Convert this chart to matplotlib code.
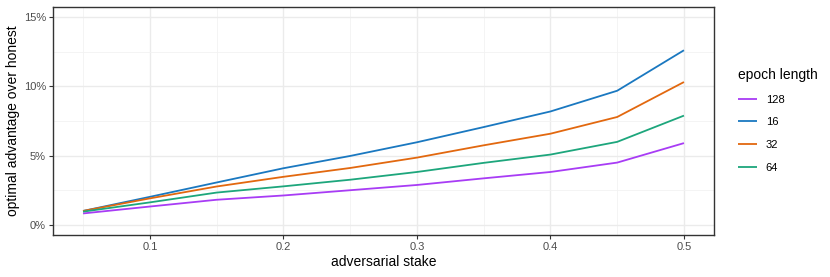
import matplotlib
matplotlib.use("Agg")
import matplotlib.pyplot as plt
from matplotlib.ticker import FuncFormatter, MultipleLocator

plt.rcParams['font.family'] = ['Liberation Sans', 'DejaVu Sans']

# adversarial stake (x) and optimal advantage in percent, per epoch length
stake = [0.05, 0.10, 0.15, 0.20, 0.25, 0.30, 0.35, 0.40, 0.45, 0.50]
adv_128 = [0.81, 1.31, 1.80, 2.11, 2.49, 2.87, 3.35, 3.81, 4.49, 5.90]
adv_16 = [0.99, 2.01, 3.05, 4.08, 4.97, 5.96, 7.06, 8.19, 9.69, 12.62]
adv_32 = [0.99, 1.90, 2.76, 3.46, 4.10, 4.85, 5.74, 6.58, 7.79, 10.32]
adv_64 = [0.94, 1.61, 2.32, 2.77, 3.25, 3.81, 4.47, 5.07, 5.99, 7.89]

labels = ['128', '16', '32', '64']
series = [adv_128, adv_16, adv_32, adv_64]
colors = ['#a83cf5', '#1a78c0', '#e2680f', '#1da67c']

W, H = 830, 277
fig = plt.figure(figsize=(W / 100, H / 100), dpi=100)
# panel box in pixels: left 53, right 714, top 7, bottom 235
ax = fig.add_axes([53 / W, 1 - 235 / H, (714 - 53) / W, (235 - 7) / H])

for lab, vals, col in zip(labels, series, colors):
    ax.plot(stake, vals, color=col, lw=1.3, label=lab, solid_capstyle='butt')

ax.set_xlim(0.0275, 0.5225)
ax.set_ylim(-0.75, 15.75)
ax.xaxis.set_major_locator(MultipleLocator(0.1))
ax.xaxis.set_minor_locator(MultipleLocator(0.05))
ax.yaxis.set_major_locator(MultipleLocator(5))
ax.yaxis.set_minor_locator(MultipleLocator(2.5))
ax.xaxis.set_major_formatter(FuncFormatter(lambda v, p: f'{v:.1f}'))
ax.yaxis.set_major_formatter(FuncFormatter(lambda v, p: f'{v:.0f}%'))

ax.grid(True, which='major', color='#ebebeb', lw=1.0)
ax.grid(True, which='minor', color='#f2f2f2', lw=0.6)
ax.set_axisbelow(True)
for s in ax.spines.values():
    s.set_color('#333333')
    s.set_linewidth(1.0)
ax.tick_params(which='major', length=3, width=0.8, color='#333333',
               labelsize=8, labelcolor='#4d4d4d', pad=2)
ax.tick_params(which='minor', length=0)

ax.set_xlabel('adversarial stake', fontsize=10, labelpad=2)
ax.set_ylabel('optimal advantage over honest', fontsize=10, labelpad=3)

leg = fig.legend(loc='upper left', bbox_to_anchor=(728 / W, 1 - 58 / H),
                 frameon=False, title='epoch length', fontsize=8,
                 title_fontsize=10, handlelength=1.7, labelspacing=1.14,
                 handletextpad=0.8, alignment='left')

fig.savefig('out.png', dpi=100)
